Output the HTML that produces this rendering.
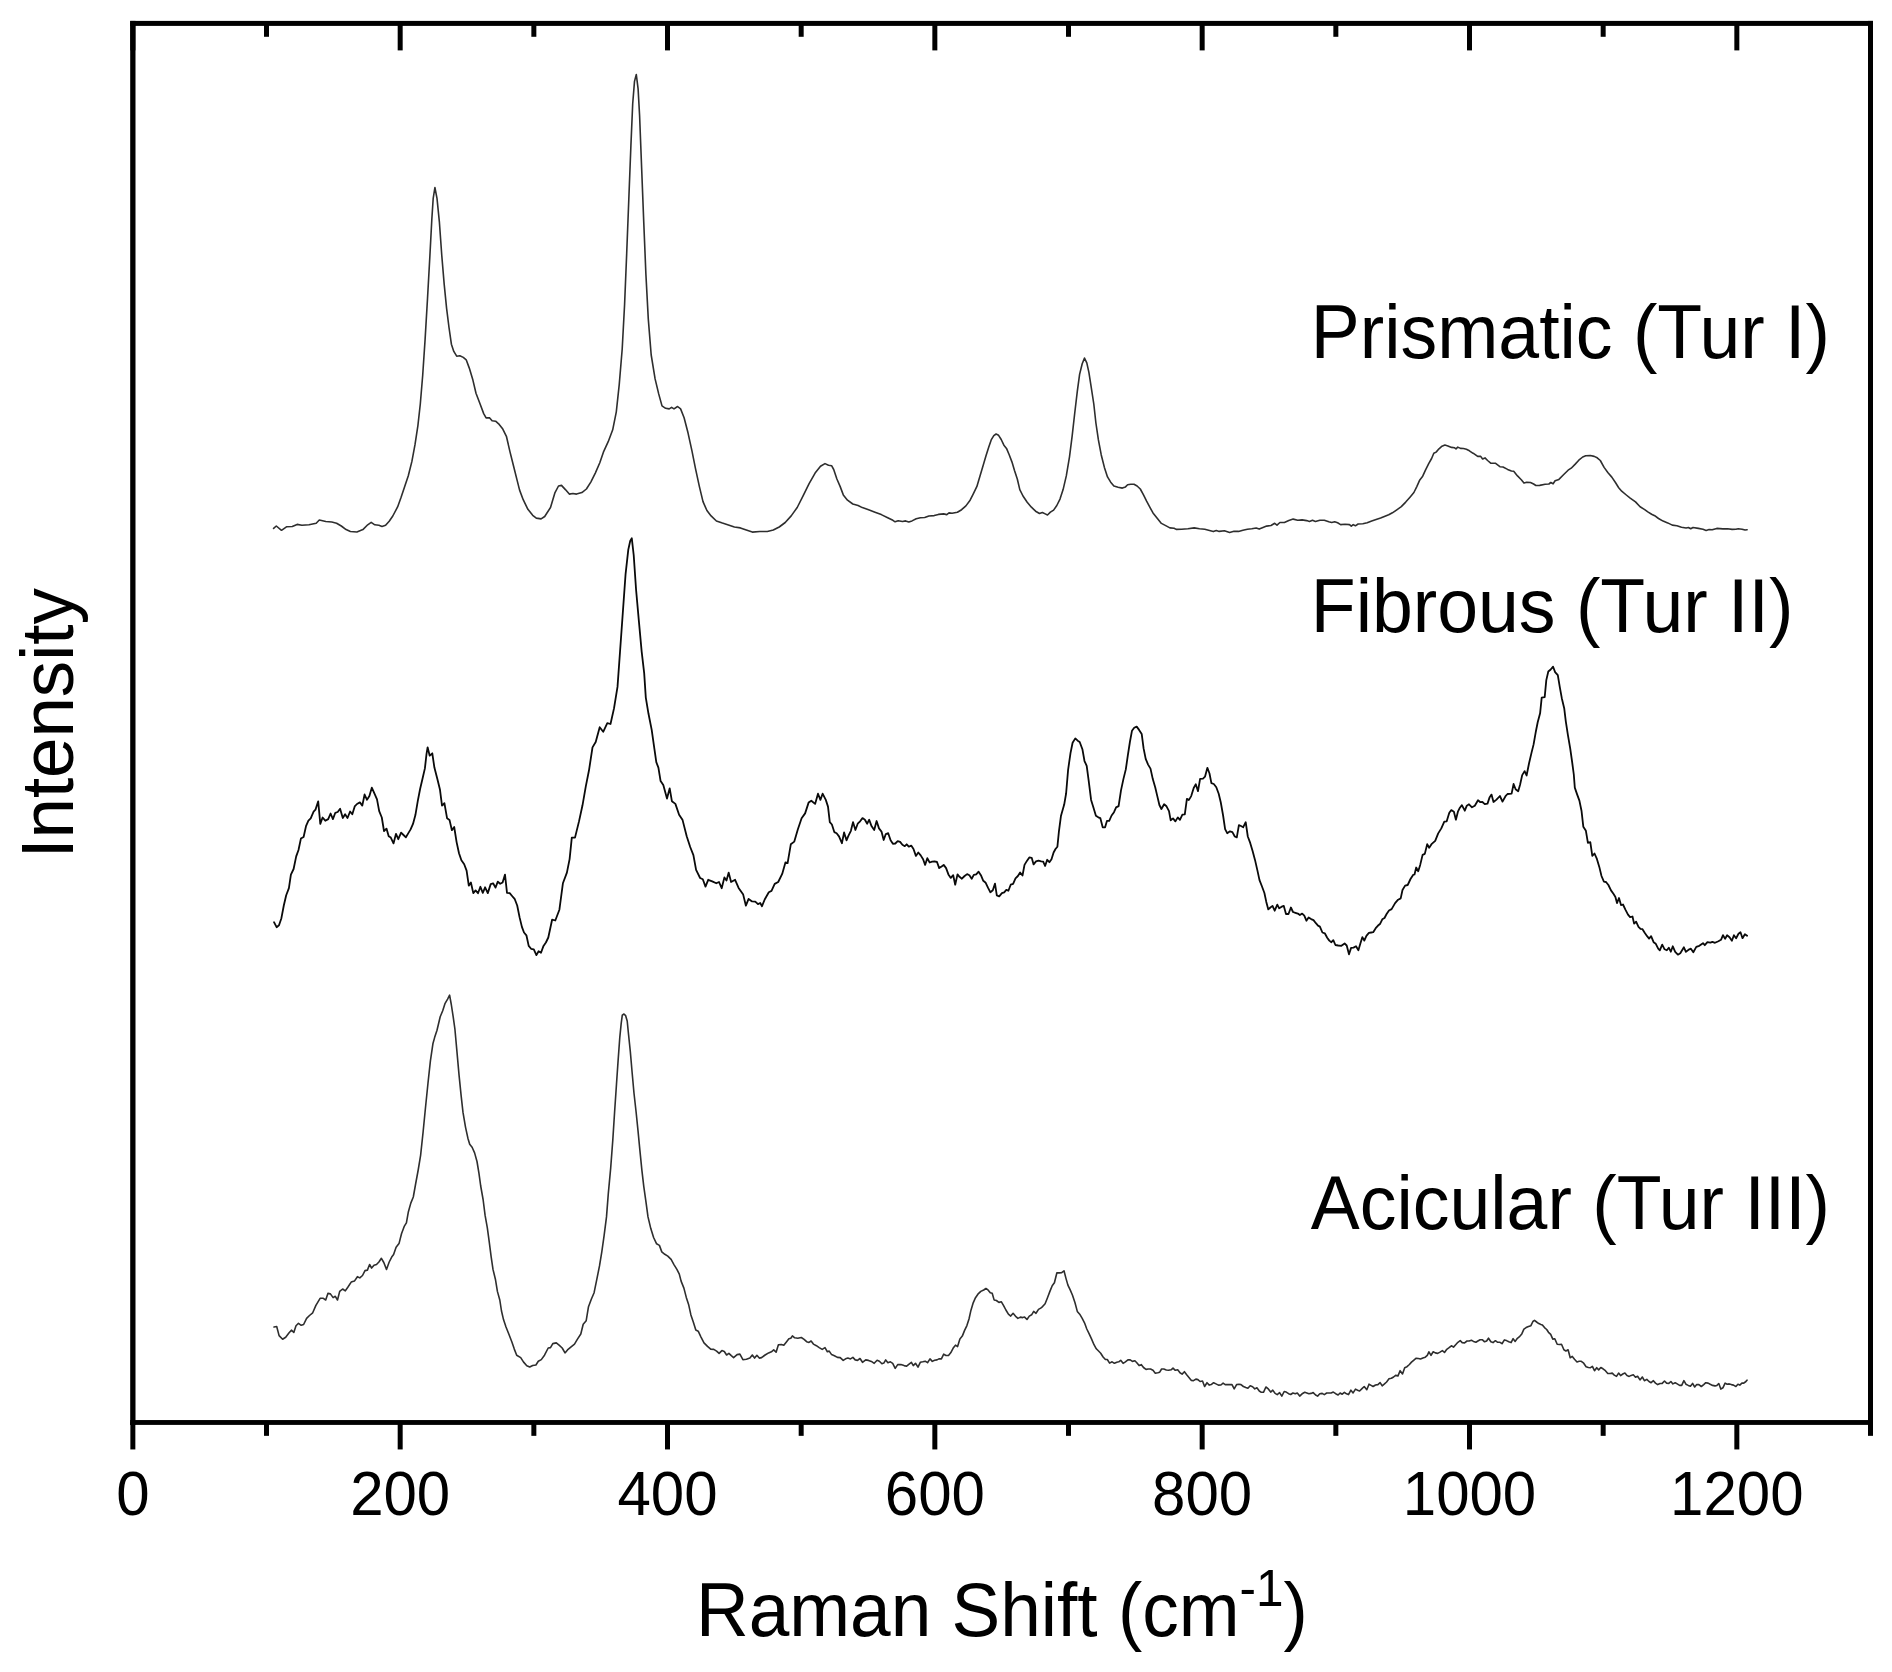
<!DOCTYPE html>
<html lang="en"><head><meta charset="utf-8"><title>Raman spectra</title>
<style>
html,body{margin:0;padding:0;background:#fff;}
body{width:1892px;height:1672px;overflow:hidden;}
svg{display:block;}
svg text{font-family:"Liberation Sans",Arial,sans-serif;fill:#000;}
</style></head><body>
<svg width="1892" height="1672" viewBox="0 0 1892 1672">
<rect x="0" y="0" width="1892" height="1672" fill="#fff"/>
<rect x="130.2" y="20.9" width="5.3" height="1404.0" fill="#000"/>
<rect x="1868" y="20.9" width="5" height="1404.0" fill="#000"/>
<rect x="130.2" y="20.9" width="1742.8" height="5" fill="#000"/>
<rect x="130.2" y="1420.05" width="1742.8" height="4.85" fill="#000"/>
<line x1="132.85" y1="1422.45" x2="132.85" y2="1449.45" stroke="#000" stroke-width="5.0"/>
<line x1="132.85" y1="23.4" x2="132.85" y2="50.40" stroke="#000" stroke-width="5.0"/>
<line x1="266.52" y1="1422.45" x2="266.52" y2="1435.85" stroke="#000" stroke-width="5.0"/>
<line x1="266.52" y1="23.4" x2="266.52" y2="36.80" stroke="#000" stroke-width="5.0"/>
<line x1="400.18" y1="1422.45" x2="400.18" y2="1449.45" stroke="#000" stroke-width="5.0"/>
<line x1="400.18" y1="23.4" x2="400.18" y2="50.40" stroke="#000" stroke-width="5.0"/>
<line x1="533.85" y1="1422.45" x2="533.85" y2="1435.85" stroke="#000" stroke-width="5.0"/>
<line x1="533.85" y1="23.4" x2="533.85" y2="36.80" stroke="#000" stroke-width="5.0"/>
<line x1="667.51" y1="1422.45" x2="667.51" y2="1449.45" stroke="#000" stroke-width="5.0"/>
<line x1="667.51" y1="23.4" x2="667.51" y2="50.40" stroke="#000" stroke-width="5.0"/>
<line x1="801.18" y1="1422.45" x2="801.18" y2="1435.85" stroke="#000" stroke-width="5.0"/>
<line x1="801.18" y1="23.4" x2="801.18" y2="36.80" stroke="#000" stroke-width="5.0"/>
<line x1="934.84" y1="1422.45" x2="934.84" y2="1449.45" stroke="#000" stroke-width="5.0"/>
<line x1="934.84" y1="23.4" x2="934.84" y2="50.40" stroke="#000" stroke-width="5.0"/>
<line x1="1068.51" y1="1422.45" x2="1068.51" y2="1435.85" stroke="#000" stroke-width="5.0"/>
<line x1="1068.51" y1="23.4" x2="1068.51" y2="36.80" stroke="#000" stroke-width="5.0"/>
<line x1="1202.17" y1="1422.45" x2="1202.17" y2="1449.45" stroke="#000" stroke-width="5.0"/>
<line x1="1202.17" y1="23.4" x2="1202.17" y2="50.40" stroke="#000" stroke-width="5.0"/>
<line x1="1335.84" y1="1422.45" x2="1335.84" y2="1435.85" stroke="#000" stroke-width="5.0"/>
<line x1="1335.84" y1="23.4" x2="1335.84" y2="36.80" stroke="#000" stroke-width="5.0"/>
<line x1="1469.50" y1="1422.45" x2="1469.50" y2="1449.45" stroke="#000" stroke-width="5.0"/>
<line x1="1469.50" y1="23.4" x2="1469.50" y2="50.40" stroke="#000" stroke-width="5.0"/>
<line x1="1603.17" y1="1422.45" x2="1603.17" y2="1435.85" stroke="#000" stroke-width="5.0"/>
<line x1="1603.17" y1="23.4" x2="1603.17" y2="36.80" stroke="#000" stroke-width="5.0"/>
<line x1="1736.83" y1="1422.45" x2="1736.83" y2="1449.45" stroke="#000" stroke-width="5.0"/>
<line x1="1736.83" y1="23.4" x2="1736.83" y2="50.40" stroke="#000" stroke-width="5.0"/>
<line x1="1870.50" y1="1422.45" x2="1870.50" y2="1435.85" stroke="#000" stroke-width="5.0"/>
<line x1="1870.50" y1="23.4" x2="1870.50" y2="36.80" stroke="#000" stroke-width="5.0"/>
<text transform="translate(132.85,1514.9) scale(1,1.04)" font-size="60" text-anchor="middle">0</text>
<text transform="translate(400.18,1514.9) scale(1,1.04)" font-size="60" text-anchor="middle">200</text>
<text transform="translate(667.51,1514.9) scale(1,1.04)" font-size="60" text-anchor="middle">400</text>
<text transform="translate(934.84,1514.9) scale(1,1.04)" font-size="60" text-anchor="middle">600</text>
<text transform="translate(1202.17,1514.9) scale(1,1.04)" font-size="60" text-anchor="middle">800</text>
<text transform="translate(1469.50,1514.9) scale(1,1.04)" font-size="60" text-anchor="middle">1000</text>
<text transform="translate(1736.83,1514.9) scale(1,1.04)" font-size="60" text-anchor="middle">1200</text>
<text transform="translate(1310.8,357.65) scale(1,1.03)" font-size="73.4" text-anchor="start">Prismatic (Tur I)</text>
<text transform="translate(1310.8,631.9) scale(1,1.03)" font-size="73.4" text-anchor="start">Fibrous (Tur II)</text>
<text transform="translate(1310.8,1228.9) scale(1,1.03)" font-size="73.4" text-anchor="start">Acicular (Tur III)</text>
<text transform="translate(696.0,1635.8) scale(1,1.03)" font-size="73.0" text-anchor="start">Raman Shift (cm<tspan font-size="49.5" dy="-29.3">-1</tspan><tspan dy="29.3">)</tspan></text>
<text transform="translate(72.75,858.6) rotate(-90) scale(1,1.03)" font-size="72.6" text-anchor="start">Intensity</text>
<path d="M273.6,528.4 L276.3,526.0 L281.5,530.3 L286.8,526.7 L292.3,526.5 L297.1,524.4 L301.9,525.3 L309.0,524.8 L316.2,523.2 L319.3,520.0 L325.8,521.5 L331.8,522.0 L336.6,523.2 L341.3,526.0 L346.1,529.6 L350.4,531.5 L356.9,532.0 L362.9,529.6 L367.7,524.8 L371.2,522.4 L374.8,524.8 L378.9,525.3 L382.0,526.5 L385.6,525.3 L389.2,521.2 L392.8,516.0 L397.6,506.9 L401.1,497.3 L404.7,486.6 L408.3,475.8 L411.9,461.4 L415.0,444.7 L417.9,425.6 L420.3,404.0 L422.7,375.3 L425.1,339.4 L427.5,298.8 L429.9,255.7 L431.8,219.8 L433.2,198.3 L434.9,187.5 L437.0,198.3 L439.4,222.2 L441.8,255.7 L444.2,284.4 L446.6,308.3 L449.0,327.5 L451.4,344.2 L453.8,351.4 L456.7,356.2 L459.8,355.7 L463.3,357.4 L466.2,359.8 L469.3,368.1 L472.9,380.1 L476.0,393.3 L480.1,404.0 L483.7,413.6 L486.1,417.9 L489.7,417.9 L492.1,420.8 L495.6,421.2 L499.2,424.4 L502.8,429.1 L506.4,436.3 L510.0,451.9 L513.6,466.2 L517.2,480.6 L519.6,490.1 L523.2,499.7 L527.9,509.3 L532.7,515.3 L536.3,518.1 L541.1,518.9 L544.7,516.5 L550.5,507.5 L555.0,492.6 L558.5,486.0 L561.5,485.4 L565.4,489.6 L569.3,494.1 L572.9,493.5 L576.5,494.1 L581.9,492.6 L586.4,489.0 L590.8,482.1 L595.3,473.1 L599.8,462.7 L603.4,452.2 L608.2,441.7 L612.7,429.8 L616.3,411.8 L619.2,384.9 L622.2,349.0 L624.6,304.2 L626.7,253.3 L628.8,199.5 L630.9,145.7 L632.7,103.8 L634.5,81.4 L636.3,74.5 L638.1,88.9 L639.6,115.8 L641.7,169.6 L643.8,223.4 L645.9,274.3 L648.3,319.1 L651.2,355.0 L655.1,378.9 L658.7,393.9 L662.0,405.9 L665.6,408.3 L669.2,408.9 L671.6,407.4 L674.0,408.9 L677.6,406.5 L680.6,408.9 L684.1,417.8 L688.0,432.8 L691.9,450.7 L695.5,468.7 L699.4,486.6 L703.0,501.6 L706.9,510.5 L711.1,515.9 L716.4,521.0 L722.4,523.1 L728.4,524.9 L734.4,527.0 L740.4,527.9 L746.3,530.0 L752.3,532.1 L759.8,531.5 L767.3,531.5 L773.3,530.0 L779.2,527.0 L785.2,522.5 L791.2,515.9 L797.2,507.5 L803.2,495.6 L809.1,483.6 L815.1,473.1 L820.5,466.3 L825.0,463.6 L828.5,465.3 L831.6,465.7 L833.7,469.5 L836.9,479.0 L840.1,486.4 L843.3,494.9 L847.5,500.2 L852.8,504.0 L858.1,505.5 L862.3,507.6 L868.6,509.7 L875.0,512.2 L881.3,514.6 L887.7,517.7 L892.9,520.3 L895.1,521.8 L898.2,520.7 L902.5,521.5 L905.6,520.9 L908.8,522.0 L912.0,520.9 L916.2,518.8 L920.4,517.7 L924.7,517.5 L928.9,516.0 L934.2,515.6 L938.4,514.4 L943.7,513.9 L946.8,514.6 L949.0,512.9 L952.1,513.3 L957.4,512.2 L961.6,509.7 L965.9,505.9 L970.1,500.2 L973.3,493.8 L976.9,486.4 L980.0,475.9 L983.2,465.3 L986.0,455.8 L988.7,447.3 L991.2,439.9 L993.8,435.7 L996.1,434.0 L998.6,435.3 L1001.2,439.5 L1003.9,445.2 L1006.5,448.4 L1009.2,454.7 L1012.0,462.1 L1014.5,470.6 L1017.3,479.0 L1019.8,489.6 L1023.0,496.0 L1027.2,502.3 L1031.4,507.2 L1035.6,511.2 L1039.5,513.5 L1042.4,512.5 L1045.2,513.9 L1047.5,515.0 L1050.4,512.2 L1053.6,510.1 L1056.8,505.5 L1060.0,499.1 L1063.1,489.6 L1066.3,475.9 L1069.5,456.8 L1072.2,435.7 L1074.8,412.5 L1077.3,391.3 L1079.6,374.4 L1082.2,363.8 L1084.5,358.1 L1086.8,362.8 L1088.9,372.3 L1091.2,387.1 L1093.8,404.0 L1095.9,423.0 L1098.4,439.9 L1101.2,454.7 L1104.4,467.4 L1107.5,476.9 L1110.7,482.2 L1113.9,486.0 L1118.1,487.3 L1122.3,488.1 L1125.5,486.9 L1127.6,484.8 L1130.8,484.3 L1134.0,484.3 L1137.1,486.0 L1140.3,489.0 L1143.5,494.9 L1146.6,501.2 L1149.8,507.2 L1153.0,512.9 L1157.2,518.2 L1161.4,523.4 L1165.7,525.6 L1169.9,527.9 L1174.1,528.3 L1176.2,529.4 L1181.5,529.2 L1187.9,528.7 L1194.2,527.9 L1199.5,528.7 L1204.8,529.2 L1213.3,531.6 L1216.3,530.5 L1219.2,531.4 L1224.4,530.8 L1229.6,532.5 L1234.0,531.3 L1238.5,531.4 L1242.9,530.2 L1247.4,529.2 L1251.8,528.8 L1256.2,528.0 L1259.2,529.1 L1263.6,527.3 L1266.6,526.1 L1271.0,525.5 L1274.7,523.3 L1277.0,525.1 L1279.9,522.5 L1284.4,522.5 L1288.8,520.6 L1293.2,519.1 L1297.7,520.2 L1302.1,519.9 L1306.6,520.6 L1309.5,521.4 L1312.5,520.2 L1315.4,521.4 L1319.9,520.2 L1324.3,520.3 L1328.8,521.7 L1331.7,522.5 L1334.7,521.8 L1337.6,522.8 L1340.6,524.6 L1345.0,524.3 L1349.5,524.6 L1351.3,526.2 L1353.2,524.6 L1355.4,525.8 L1358.1,524.0 L1362.8,523.7 L1367.2,522.8 L1371.7,521.1 L1376.1,519.6 L1380.6,518.1 L1385.0,516.3 L1388.7,514.8 L1392.4,512.8 L1396.8,509.8 L1401.3,506.6 L1405.7,502.1 L1410.2,496.9 L1413.9,492.5 L1416.8,486.6 L1419.8,479.9 L1422.7,476.2 L1425.7,469.6 L1428.7,463.6 L1431.6,458.5 L1433.8,453.3 L1436.1,452.1 L1439.0,448.8 L1442.0,446.2 L1444.9,445.1 L1447.9,445.9 L1451.6,447.4 L1454.6,447.8 L1456.0,448.8 L1457.8,447.1 L1460.5,448.4 L1463.4,448.5 L1466.4,449.3 L1469.4,450.8 L1473.1,453.3 L1473.8,453.6 L1477.7,456.4 L1480.7,456.4 L1482.6,459.0 L1485.0,457.9 L1487.6,460.5 L1490.7,463.2 L1495.3,463.2 L1499.9,466.7 L1503.0,467.0 L1507.6,469.4 L1511.4,471.0 L1513.7,471.3 L1517.5,475.9 L1521.3,479.7 L1524.0,483.1 L1526.7,482.3 L1530.5,482.5 L1533.6,484.0 L1535.9,485.5 L1539.7,485.4 L1545.1,484.3 L1548.9,484.0 L1550.8,482.5 L1553.1,483.8 L1555.1,480.8 L1558.9,479.4 L1563.5,474.8 L1568.1,470.2 L1571.2,468.2 L1575.0,464.4 L1578.8,460.2 L1582.7,457.0 L1585.7,455.8 L1590.3,455.5 L1594.2,456.4 L1597.2,457.8 L1600.3,460.5 L1604.1,467.4 L1608.0,472.8 L1611.8,477.1 L1615.6,482.8 L1618.7,487.7 L1621.7,491.2 L1626.3,495.0 L1630.2,498.1 L1635.5,501.9 L1640.1,506.8 L1644.7,509.6 L1647.8,511.9 L1651.6,514.2 L1654.7,515.7 L1658.5,518.5 L1663.1,521.1 L1667.7,522.9 L1672.3,525.1 L1676.9,525.7 L1681.5,527.2 L1686.1,528.0 L1688.4,527.5 L1690.7,528.8 L1693.0,527.5 L1698.4,528.4 L1703.0,529.2 L1706.1,530.4 L1709.1,529.5 L1712.2,529.8 L1716.8,528.4 L1722.9,528.9 L1727.5,528.8 L1732.1,529.4 L1735.9,529.2 L1738.2,528.8 L1742.1,529.2 L1745.1,530.0 L1747.1,529.7" fill="none" stroke="#2e2e2e" stroke-width="1.6" stroke-linejoin="round" stroke-linecap="round"/>
<path d="M274.0,922.2 L276.6,927.2 L279.0,925.3 L281.4,918.2 L283.8,905.5 L286.2,895.2 L288.9,888.1 L290.9,874.6 L293.6,869.0 L296.2,856.4 L298.5,850.0 L300.9,838.6 L303.6,837.0 L306.0,826.2 L308.4,820.7 L310.7,818.3 L313.6,811.6 L315.5,809.6 L318.2,801.3 L320.3,823.9 L322.6,817.5 L325.3,820.7 L328.2,819.1 L330.6,813.5 L332.9,819.1 L335.3,812.8 L337.7,812.0 L340.1,808.8 L342.8,818.0 L345.1,814.3 L347.5,818.0 L350.1,811.5 L352.3,814.3 L354.7,806.4 L357.0,804.0 L359.9,802.4 L362.3,805.6 L364.6,794.5 L367.0,799.8 L369.4,796.1 L371.8,787.7 L374.5,793.7 L377.0,799.3 L379.2,811.2 L381.8,817.5 L384.0,831.0 L386.5,828.6 L388.7,836.2 L390.8,837.6 L393.5,843.4 L396.0,833.8 L398.3,839.2 L401.1,832.6 L403.5,835.0 L405.9,837.3 L408.2,833.4 L410.6,829.4 L413.0,823.9 L415.4,815.1 L417.8,800.9 L420.1,789.0 L422.5,778.7 L424.9,768.4 L426.5,754.1 L427.6,747.3 L429.7,755.7 L432.3,753.3 L434.4,767.6 L437.3,778.7 L440.0,789.8 L442.0,805.6 L444.4,803.2 L447.1,818.3 L449.5,819.9 L451.9,830.2 L454.2,827.0 L456.6,842.1 L459.0,853.2 L461.4,860.3 L464.2,864.3 L466.6,870.6 L468.8,885.7 L470.9,882.5 L473.3,893.1 L475.6,890.4 L478.0,893.3 L480.4,886.8 L482.8,892.8 L485.1,887.3 L487.8,893.1 L490.7,884.1 L493.1,883.3 L495.5,887.6 L497.8,881.7 L500.2,883.8 L502.6,882.5 L505.0,874.6 L507.0,892.8 L509.7,893.1 L512.1,896.0 L514.8,899.2 L517.2,905.5 L519.6,917.4 L521.9,926.9 L524.0,932.5 L526.4,935.3 L528.7,945.9 L531.1,948.8 L533.8,949.4 L536.4,955.1 L538.6,951.2 L541.0,952.8 L543.5,945.9 L545.9,942.5 L548.3,937.5 L552.1,919.7 L555.3,920.5 L559.4,909.7 L562.9,883.3 L566.9,872.6 L569.6,859.1 L571.8,837.6 L575.0,837.6 L579.0,821.4 L582.5,805.3 L585.8,786.4 L589.0,770.3 L592.5,747.4 L595.7,742.0 L599.7,727.2 L603.2,731.8 L607.3,723.2 L610.5,724.0 L614.0,708.4 L617.5,686.9 L620.2,649.2 L622.9,611.5 L625.6,573.8 L628.3,549.6 L630.2,541.0 L631.8,538.3 L633.7,555.0 L636.1,590.0 L639.0,622.3 L641.7,651.9 L644.2,673.4 L645.8,697.6 L648.5,713.8 L651.7,729.9 L654.4,748.8 L656.3,762.2 L658.4,767.6 L660.6,781.1 L663.3,785.1 L667.0,798.6 L669.7,788.3 L671.9,801.2 L675.4,803.9 L679.1,814.7 L682.6,820.1 L686.7,836.2 L690.2,847.0 L693.4,855.1 L696.1,869.9 L700.1,878.0 L702.8,879.3 L705.5,886.6 L708.2,879.8 L712.2,881.4 L716.3,883.3 L719.0,882.0 L721.7,888.2 L724.4,877.4 L726.5,880.6 L728.7,872.6 L731.1,882.0 L735.1,879.8 L738.6,887.9 L743.2,894.6 L745.9,905.7 L748.6,898.9 L752.1,901.4 L755.3,901.6 L758.0,904.1 L760.2,903.0 L762.0,906.2 L764.7,899.5 L768.8,892.2 L771.5,890.9 L774.7,883.9 L778.2,882.0 L782.2,873.9 L785.5,862.3 L787.6,863.1 L790.8,844.3 L794.3,841.6 L797.8,829.5 L801.6,818.2 L805.1,813.4 L808.6,802.6 L811.3,800.7 L815.1,803.9 L818.0,793.7 L820.4,799.9 L822.6,793.7 L825.8,799.9 L828.0,806.6 L829.8,822.1 L831.9,824.5 L834.3,832.1 L836.6,833.2 L839.0,836.4 L841.9,843.2 L844.1,832.4 L846.5,840.3 L848.5,835.6 L850.9,830.8 L853.0,822.1 L855.4,830.0 L857.7,823.7 L860.1,821.3 L862.5,818.1 L864.9,819.7 L867.2,823.7 L869.2,819.7 L871.5,826.1 L874.2,830.0 L876.6,821.0 L879.0,828.4 L881.5,831.6 L883.7,840.0 L885.8,834.0 L888.2,833.2 L890.6,840.3 L892.9,843.8 L895.3,843.5 L897.7,841.1 L900.1,841.9 L902.4,844.8 L904.8,846.2 L906.7,844.3 L908.8,846.7 L911.2,845.6 L913.5,849.0 L915.9,855.9 L918.3,852.5 L920.7,855.4 L923.1,859.3 L925.1,864.9 L927.3,858.2 L929.7,862.5 L932.1,861.7 L934.5,861.4 L937.0,862.0 L939.2,868.1 L941.6,866.5 L943.7,864.9 L946.1,868.1 L948.4,874.4 L950.8,877.9 L953.2,875.2 L955.2,884.7 L957.5,874.4 L959.5,876.8 L961.9,878.7 L964.6,876.0 L967.1,874.1 L969.4,875.2 L971.7,878.7 L973.8,874.9 L976.2,874.4 L978.6,871.7 L980.9,875.2 L983.3,880.8 L985.7,882.8 L988.1,887.9 L990.4,892.3 L992.8,890.3 L995.0,883.6 L996.8,895.3 L999.2,896.3 L1001.9,893.1 L1004.2,892.3 L1006.3,889.8 L1008.4,890.7 L1010.7,884.7 L1013.1,883.9 L1015.5,878.4 L1017.9,876.0 L1020.1,872.5 L1022.5,875.5 L1024.5,864.9 L1026.9,860.9 L1029.3,857.4 L1031.7,857.8 L1033.6,864.4 L1036.0,861.4 L1038.5,860.6 L1041.2,861.4 L1043.2,861.7 L1045.1,866.0 L1047.2,859.8 L1049.4,862.2 L1051.5,859.3 L1053.6,852.5 L1055.5,849.0 L1057.4,846.7 L1058.9,831.6 L1061.0,815.7 L1064.2,804.6 L1066.1,793.5 L1068.1,769.8 L1070.5,753.1 L1072.6,742.8 L1075.3,738.4 L1077.7,740.7 L1079.7,742.0 L1082.4,749.2 L1084.5,761.0 L1086.7,765.8 L1088.7,780.9 L1091.1,799.9 L1093.5,807.8 L1095.9,815.7 L1098.3,817.3 L1100.3,818.1 L1102.7,827.3 L1105.1,827.3 L1107.0,820.8 L1109.2,820.8 L1111.6,815.5 L1114.0,812.2 L1116.1,807.4 L1118.6,806.1 L1121.0,790.4 L1123.4,779.1 L1125.8,769.4 L1127.8,755.7 L1129.9,742.0 L1132.0,730.7 L1134.2,727.8 L1136.7,726.6 L1139.1,729.9 L1141.7,733.9 L1143.6,748.4 L1145.7,758.9 L1148.1,764.6 L1150.5,768.6 L1152.8,779.1 L1155.2,787.2 L1157.3,796.1 L1159.4,805.0 L1161.4,809.0 L1164.1,804.2 L1166.5,806.3 L1169.0,811.1 L1170.7,820.3 L1173.0,818.4 L1175.4,821.4 L1177.8,817.4 L1179.9,819.8 L1182.4,814.7 L1184.8,814.3 L1186.9,798.8 L1188.8,800.1 L1191.2,796.1 L1193.7,788.0 L1195.8,784.3 L1198.0,791.2 L1200.1,778.8 L1203.0,778.6 L1205.0,776.7 L1207.4,767.8 L1209.5,773.5 L1211.4,783.2 L1213.8,784.0 L1216.3,787.2 L1218.7,793.7 L1220.8,802.5 L1223.1,815.5 L1225.1,829.2 L1227.2,833.2 L1230.0,831.3 L1232.4,832.1 L1234.8,836.5 L1236.8,837.3 L1238.9,825.1 L1241.0,826.0 L1243.2,827.2 L1245.7,822.2 L1247.8,836.5 L1250.2,842.9 L1252.6,851.0 L1255.0,859.9 L1257.4,870.4 L1259.5,880.1 L1262.0,886.5 L1264.4,893.0 L1266.3,901.9 L1268.3,909.4 L1270.4,907.5 L1272.5,905.9 L1274.7,910.7 L1277.3,904.6 L1279.2,908.3 L1281.7,906.7 L1283.8,905.9 L1286.0,914.0 L1288.5,914.0 L1290.9,907.5 L1293.0,912.0 L1295.4,912.8 L1297.8,913.6 L1299.9,915.1 L1302.2,913.6 L1304.3,915.6 L1306.4,920.7 L1308.6,917.5 L1311.1,919.1 L1313.5,920.1 L1315.9,923.2 L1318.0,925.6 L1319.9,926.6 L1322.4,932.5 L1324.8,933.3 L1327.2,937.7 L1329.3,940.6 L1331.4,942.2 L1333.3,940.1 L1335.4,945.0 L1338.2,945.5 L1341.4,945.8 L1344.6,943.5 L1346.7,945.5 L1349.0,954.3 L1351.1,947.9 L1353.5,947.6 L1356.0,946.3 L1358.4,950.3 L1360.3,943.8 L1362.4,937.1 L1364.3,940.6 L1366.4,935.8 L1368.9,932.9 L1371.3,932.5 L1373.2,932.2 L1375.7,928.2 L1377.8,925.8 L1380.2,923.7 L1382.3,919.3 L1384.5,918.0 L1386.6,914.0 L1389.0,910.5 L1391.6,909.1 L1395.1,903.1 L1398.1,899.7 L1400.7,898.4 L1402.5,890.0 L1405.1,885.6 L1407.7,885.0 L1410.5,879.0 L1413.1,874.9 L1414.5,874.5 L1416.2,867.5 L1418.2,871.3 L1420.2,864.9 L1422.6,854.9 L1424.8,853.9 L1427.2,844.2 L1429.2,847.8 L1431.8,843.8 L1435.2,840.8 L1438.2,833.4 L1441.3,828.4 L1444.3,821.7 L1446.7,821.3 L1449.3,812.7 L1451.3,810.1 L1453.9,811.7 L1455.9,819.7 L1457.9,811.7 L1459.9,807.7 L1461.9,805.1 L1464.8,810.7 L1466.8,805.7 L1469.0,804.3 L1472.0,807.3 L1474.8,805.7 L1478.0,800.2 L1480.4,802.2 L1482.4,802.0 L1484.8,804.1 L1487.5,803.6 L1489.5,797.6 L1491.5,794.6 L1493.5,802.0 L1496.5,799.6 L1499.9,796.0 L1502.5,801.6 L1505.5,796.2 L1507.5,794.0 L1511.6,793.6 L1513.6,784.0 L1515.6,789.2 L1518.2,791.2 L1520.0,785.0 L1522.2,775.1 L1524.6,771.1 L1526.6,775.5 L1529.0,763.5 L1531.6,752.4 L1533.6,744.4 L1535.7,732.3 L1537.7,722.3 L1540.1,713.3 L1541.7,697.6 L1544.7,697.2 L1546.3,680.1 L1548.3,671.5 L1550.7,669.5 L1553.1,666.7 L1555.1,672.1 L1557.8,675.1 L1559.8,687.2 L1561.8,698.2 L1564.2,708.2 L1565.8,721.3 L1567.8,734.4 L1570.2,748.4 L1572.2,762.5 L1573.8,774.5 L1574.8,787.6 L1577.2,794.6 L1579.4,800.6 L1581.5,810.7 L1583.3,826.7 L1585.9,830.8 L1587.9,842.8 L1590.3,842.2 L1592.3,855.9 L1594.5,853.5 L1596.9,858.9 L1599.3,866.9 L1601.5,876.0 L1603.9,881.6 L1606.0,882.0 L1608.4,885.0 L1611.0,890.4 L1613.6,894.0 L1615.4,897.0 L1617.0,903.1 L1619.0,898.0 L1621.0,905.1 L1623.0,904.5 L1625.4,909.7 L1628.0,914.7 L1630.1,917.1 L1632.5,916.5 L1634.1,923.6 L1636.1,921.7 L1638.5,926.8 L1640.5,928.8 L1642.5,929.2 L1644.7,932.8 L1647.1,936.2 L1649.1,938.6 L1651.1,936.2 L1653.6,942.2 L1655.8,943.8 L1658.2,948.7 L1659.8,950.3 L1662.2,944.6 L1664.6,949.3 L1666.8,950.3 L1668.8,947.7 L1670.8,951.7 L1672.8,946.3 L1675.2,951.9 L1677.9,954.7 L1680.3,953.3 L1683.9,947.3 L1685.9,951.9 L1689.3,949.3 L1690.9,948.7 L1693.3,952.3 L1696.3,946.9 L1699.3,945.8 L1703.0,943.2 L1704.8,945.2 L1707.4,942.2 L1710.4,942.6 L1712.4,941.8 L1715.0,942.8 L1718.4,941.2 L1721.0,939.8 L1723.0,935.2 L1725.1,938.8 L1727.1,935.2 L1729.5,937.2 L1731.9,940.8 L1733.9,935.2 L1736.1,938.2 L1738.5,933.8 L1740.5,932.2 L1742.5,938.2 L1744.9,934.2 L1747.1,935.8" fill="none" stroke="#0a0a0a" stroke-width="1.8" stroke-linejoin="round" stroke-linecap="round"/>
<path d="M274.0,1327.0 L276.7,1326.5 L279.1,1335.6 L282.6,1339.2 L285.7,1337.3 L288.9,1333.1 L291.4,1330.2 L293.8,1332.4 L296.0,1325.8 L298.5,1323.3 L301.2,1325.3 L303.6,1324.5 L306.6,1318.4 L309.5,1315.5 L312.7,1312.8 L315.9,1305.4 L320.1,1298.3 L323.3,1298.3 L325.7,1300.0 L327.9,1293.4 L330.4,1293.9 L333.1,1297.6 L335.3,1296.3 L337.5,1300.0 L339.7,1291.4 L342.6,1289.0 L345.3,1290.9 L347.8,1287.3 L351.2,1282.1 L354.4,1281.1 L357.4,1276.7 L359.8,1277.9 L362.5,1275.5 L365.0,1270.6 L367.4,1270.1 L369.6,1264.5 L371.6,1268.1 L374.0,1265.2 L376.5,1264.5 L378.9,1262.0 L381.4,1258.3 L383.8,1262.5 L386.5,1269.4 L389.2,1262.0 L391.7,1257.1 L393.6,1254.6 L396.1,1247.3 L399.0,1243.6 L401.5,1233.8 L404.2,1226.4 L406.4,1222.8 L408.4,1211.7 L410.8,1203.1 L413.3,1197.0 L415.7,1183.5 L418.2,1170.0 L420.6,1155.3 L423.1,1132.0 L425.5,1107.5 L428.0,1083.0 L430.4,1060.9 L432.9,1043.8 L434.6,1037.6 L437.0,1030.3 L440.2,1016.8 L442.7,1010.7 L445.1,1003.3 L447.6,999.1 L449.6,995.2 L451.3,1004.5 L453.2,1016.8 L454.9,1029.0 L456.9,1051.1 L459.1,1075.6 L461.1,1095.3 L463.0,1112.4 L465.5,1127.1 L467.9,1138.2 L469.7,1144.3 L472.1,1147.2 L474.6,1152.9 L477.0,1161.5 L479.0,1173.7 L480.7,1186.0 L483.1,1199.5 L485.1,1215.4 L487.3,1227.7 L489.3,1242.4 L491.2,1257.1 L493.0,1269.4 L495.4,1279.2 L497.4,1291.4 L499.8,1300.0 L501.5,1311.0 L503.5,1319.6 L506.0,1327.0 L508.9,1334.3 L511.8,1341.7 L514.3,1349.1 L516.7,1355.2 L520.7,1357.6 L523.6,1362.1 L526.8,1365.7 L529.7,1367.0 L532.7,1365.5 L535.9,1365.0 L538.3,1361.3 L541.3,1359.6 L544.5,1355.2 L548.2,1348.0 L550.5,1347.6 L552.8,1343.6 L556.3,1342.9 L559.1,1345.2 L562.2,1348.0 L565.0,1352.9 L567.5,1349.9 L570.8,1347.1 L574.5,1344.1 L577.3,1339.4 L580.8,1334.0 L583.2,1324.2 L586.2,1320.7 L588.5,1306.7 L591.3,1299.3 L594.1,1292.7 L596.7,1279.9 L599.5,1265.9 L601.8,1251.9 L604.1,1235.6 L606.5,1216.9 L608.3,1193.6 L610.7,1167.9 L612.8,1140.0 L614.6,1112.0 L616.5,1084.0 L618.1,1060.6 L619.8,1037.3 L621.2,1023.3 L622.3,1015.2 L624.0,1014.0 L625.6,1015.6 L627.2,1021.0 L628.6,1035.0 L630.3,1051.3 L632.1,1072.3 L634.0,1093.3 L636.1,1112.0 L638.0,1130.6 L639.8,1149.3 L641.9,1170.3 L643.8,1186.6 L646.1,1202.9 L648.0,1216.9 L650.8,1228.6 L653.6,1237.5 L656.6,1243.8 L659.4,1245.4 L661.8,1251.9 L664.8,1254.3 L667.8,1256.1 L671.1,1259.4 L674.1,1264.8 L676.9,1269.4 L679.3,1274.1 L681.1,1281.1 L683.9,1288.1 L686.3,1297.4 L688.6,1304.4 L690.9,1314.9 L693.3,1321.9 L695.8,1330.1 L698.2,1331.2 L701.0,1337.1 L704.0,1342.9 L707.5,1346.4 L710.7,1349.2 L713.8,1349.4 L716.6,1351.1 L719.1,1353.4 L721.9,1350.6 L724.3,1351.5 L726.6,1355.0 L728.9,1353.4 L731.3,1355.7 L733.6,1357.6 L737.1,1354.6 L739.9,1354.1 L742.9,1359.7 L746.4,1359.2 L749.9,1358.1 L752.3,1355.0 L754.6,1358.1 L756.9,1355.3 L759.3,1358.1 L761.6,1357.6 L765.1,1355.0 L768.6,1352.9 L771.4,1351.8 L773.7,1349.9 L776.1,1352.2 L778.4,1344.8 L781.4,1344.5 L783.8,1345.2 L786.6,1341.7 L788.9,1338.7 L790.8,1338.2 L792.4,1335.9 L794.7,1337.8 L797.8,1338.2 L801.3,1337.5 L804.1,1339.4 L806.6,1341.7 L809.0,1342.4 L811.1,1341.0 L813.4,1344.1 L816.4,1345.7 L819.2,1347.6 L822.2,1349.4 L825.0,1347.6 L827.4,1351.8 L829.2,1351.1 L831.6,1354.6 L834.4,1355.7 L837.4,1357.4 L840.2,1357.6 L843.2,1360.4 L845.6,1358.8 L847.9,1358.1 L850.5,1358.9 L852.9,1357.4 L855.2,1359.9 L857.5,1360.4 L860.0,1358.5 L862.5,1362.3 L865.7,1359.9 L868.5,1360.4 L871.4,1361.4 L874.2,1363.3 L877.1,1360.3 L879.4,1361.2 L881.9,1363.7 L883.8,1363.1 L885.7,1359.9 L887.9,1362.7 L890.4,1361.8 L892.7,1363.3 L895.2,1368.4 L897.7,1364.6 L900.9,1364.6 L904.1,1365.6 L906.6,1366.2 L909.1,1364.1 L911.4,1362.3 L913.3,1365.6 L915.5,1363.3 L918.0,1367.1 L920.3,1362.3 L922.8,1361.8 L925.2,1361.2 L927.5,1362.7 L930.0,1358.9 L932.3,1361.4 L934.6,1360.3 L937.0,1359.9 L938.9,1358.9 L941.4,1358.9 L943.7,1354.2 L946.0,1355.5 L948.5,1355.5 L950.7,1352.8 L953.2,1348.1 L955.5,1345.2 L957.6,1346.6 L959.9,1338.9 L962.3,1336.1 L964.6,1330.4 L966.9,1325.6 L969.0,1319.0 L970.9,1310.4 L973.2,1302.8 L975.5,1297.7 L977.9,1294.2 L980.8,1291.4 L983.7,1290.0 L985.9,1288.5 L988.0,1289.9 L990.3,1292.7 L992.2,1293.3 L994.1,1299.9 L996.4,1300.5 L998.9,1302.4 L1001.4,1301.8 L1003.6,1305.6 L1005.9,1310.0 L1008.4,1314.2 L1010.7,1316.1 L1013.1,1313.3 L1015.4,1316.1 L1017.9,1318.4 L1020.4,1317.1 L1022.7,1317.6 L1024.6,1317.1 L1027.0,1319.5 L1029.3,1316.1 L1031.6,1314.8 L1033.7,1311.4 L1036.0,1313.3 L1038.5,1309.4 L1040.7,1308.1 L1042.6,1306.6 L1045.1,1303.7 L1047.4,1298.0 L1049.9,1291.4 L1052.2,1285.7 L1054.4,1282.8 L1056.9,1272.7 L1059.4,1272.9 L1061.7,1272.7 L1064.0,1270.8 L1065.9,1278.1 L1067.9,1285.1 L1070.2,1289.9 L1072.5,1295.2 L1075.0,1302.8 L1077.3,1311.4 L1079.7,1314.2 L1082.2,1318.4 L1084.5,1322.8 L1086.8,1329.0 L1089.3,1334.2 L1091.5,1338.9 L1094.0,1344.7 L1096.3,1348.8 L1098.8,1351.3 L1100.7,1353.2 L1103.1,1357.0 L1105.4,1359.5 L1107.3,1359.5 L1109.6,1363.1 L1112.1,1361.8 L1114.4,1363.3 L1116.8,1362.2 L1118.8,1361.8 L1120.7,1360.3 L1123.1,1363.3 L1125.4,1361.8 L1127.9,1359.9 L1130.2,1359.9 L1132.4,1361.4 L1134.9,1360.8 L1136.8,1362.7 L1139.1,1365.6 L1141.2,1364.6 L1143.5,1367.5 L1146.0,1369.4 L1148.2,1369.0 L1150.5,1369.0 L1153.0,1370.3 L1155.3,1373.2 L1157.8,1372.8 L1159.7,1372.2 L1161.6,1369.0 L1163.8,1369.0 L1166.3,1370.0 L1168.6,1370.3 L1171.1,1369.8 L1173.0,1368.1 L1175.3,1370.3 L1177.7,1369.8 L1180.0,1372.8 L1182.1,1374.1 L1184.4,1371.7 L1186.7,1374.7 L1191.4,1380.4 L1193.5,1380.7 L1195.9,1379.1 L1197.9,1379.6 L1200.1,1381.5 L1202.5,1381.0 L1204.6,1386.5 L1207.0,1382.7 L1209.3,1385.1 L1211.2,1384.6 L1213.6,1382.7 L1216.0,1383.9 L1218.4,1385.1 L1220.9,1385.0 L1223.1,1383.1 L1225.2,1384.6 L1227.6,1384.6 L1229.9,1384.6 L1232.0,1384.6 L1234.2,1388.9 L1236.6,1384.6 L1239.0,1384.3 L1241.0,1384.6 L1243.4,1386.5 L1245.8,1387.5 L1247.9,1388.3 L1250.2,1385.8 L1252.6,1386.7 L1254.8,1388.9 L1256.9,1387.8 L1259.3,1391.0 L1261.3,1392.3 L1263.6,1392.1 L1265.9,1387.0 L1268.3,1388.9 L1270.7,1392.1 L1272.8,1390.2 L1275.1,1393.4 L1277.2,1394.6 L1279.6,1392.6 L1281.8,1396.1 L1284.2,1391.5 L1286.2,1392.1 L1288.6,1393.7 L1290.7,1394.5 L1292.9,1393.0 L1295.3,1393.8 L1297.3,1393.0 L1299.7,1396.1 L1302.1,1393.8 L1304.8,1392.3 L1306.8,1392.9 L1308.9,1393.7 L1311.1,1393.4 L1313.2,1392.6 L1315.6,1395.0 L1317.6,1396.1 L1319.8,1393.8 L1322.2,1393.4 L1324.3,1394.6 L1326.7,1393.0 L1329.0,1393.0 L1331.1,1393.0 L1333.3,1392.1 L1335.7,1393.7 L1338.1,1395.0 L1340.1,1393.0 L1342.2,1394.2 L1344.4,1392.3 L1346.5,1393.8 L1348.5,1394.6 L1350.9,1390.2 L1353.1,1392.9 L1355.5,1389.1 L1357.6,1390.2 L1359.6,1391.0 L1362.0,1388.6 L1364.2,1386.5 L1366.8,1389.7 L1369.0,1384.2 L1371.1,1385.4 L1373.1,1386.5 L1375.5,1385.0 L1377.9,1384.6 L1380.1,1382.6 L1382.2,1385.8 L1384.5,1383.9 L1386.6,1382.0 L1389.0,1378.8 L1391.4,1378.3 L1393.6,1377.0 L1395.6,1375.4 L1398.0,1375.9 L1400.1,1370.7 L1402.5,1373.9 L1404.7,1367.7 L1407.0,1366.7 L1409.4,1364.5 L1411.5,1362.1 L1413.9,1360.1 L1416.2,1358.2 L1418.3,1358.5 L1420.5,1359.0 L1422.9,1358.0 L1425.3,1357.2 L1427.3,1355.3 L1428.9,1351.8 L1431.0,1355.3 L1433.2,1351.8 L1435.3,1352.9 L1437.7,1353.4 L1440.0,1352.1 L1442.4,1350.6 L1444.5,1352.5 L1446.8,1349.3 L1449.1,1347.7 L1451.4,1345.8 L1453.5,1347.1 L1455.9,1344.5 L1457.9,1342.3 L1460.2,1340.7 L1462.2,1342.6 L1464.6,1342.9 L1467.0,1341.0 L1469.2,1341.0 L1471.4,1340.3 L1473.5,1341.4 L1475.9,1342.2 L1477.9,1341.0 L1480.1,1339.8 L1482.5,1339.8 L1484.6,1341.8 L1486.6,1341.0 L1488.5,1338.2 L1490.9,1341.8 L1493.0,1342.6 L1495.4,1340.7 L1497.7,1342.3 L1500.0,1342.3 L1502.0,1343.7 L1504.4,1339.9 L1506.5,1340.6 L1508.8,1341.8 L1511.1,1342.6 L1513.1,1338.7 L1515.2,1341.4 L1517.4,1338.3 L1519.8,1336.3 L1521.8,1333.9 L1523.9,1329.2 L1526.1,1327.6 L1528.5,1326.5 L1530.9,1325.7 L1532.9,1321.5 L1534.5,1320.4 L1536.6,1322.0 L1538.8,1323.6 L1540.9,1324.4 L1542.4,1324.9 L1544.5,1327.6 L1546.7,1329.5 L1548.5,1332.3 L1550.7,1334.4 L1552.8,1339.1 L1554.8,1338.7 L1557.2,1344.2 L1559.6,1344.5 L1561.5,1344.2 L1563.9,1349.8 L1565.9,1351.0 L1568.1,1349.8 L1570.2,1357.7 L1572.3,1356.4 L1574.5,1359.3 L1577.0,1362.0 L1579.2,1361.3 L1581.3,1361.3 L1583.7,1363.2 L1586.1,1366.7 L1588.4,1367.5 L1590.5,1367.7 L1592.4,1366.4 L1594.5,1370.7 L1596.7,1367.7 L1598.7,1369.9 L1600.8,1367.5 L1603.0,1368.8 L1605.4,1370.7 L1607.8,1373.5 L1610.2,1373.5 L1612.2,1373.1 L1614.3,1375.1 L1616.5,1376.4 L1618.6,1373.1 L1620.6,1375.6 L1622.8,1374.0 L1624.9,1373.1 L1627.0,1375.6 L1629.2,1376.4 L1631.2,1375.4 L1633.3,1374.8 L1635.5,1377.2 L1637.6,1376.2 L1640.0,1379.9 L1642.3,1377.0 L1644.4,1380.7 L1646.8,1379.4 L1649.0,1381.5 L1651.1,1382.7 L1653.4,1380.7 L1655.5,1383.1 L1657.7,1384.6 L1660.1,1383.5 L1662.2,1383.4 L1664.5,1381.0 L1666.6,1383.1 L1668.8,1383.4 L1670.9,1381.5 L1672.9,1383.9 L1675.2,1382.7 L1677.2,1383.9 L1679.6,1385.4 L1681.7,1385.4 L1683.9,1380.7 L1685.9,1384.2 L1688.3,1385.4 L1690.4,1386.2 L1692.6,1383.4 L1694.7,1387.0 L1696.7,1384.6 L1698.9,1384.6 L1701.3,1386.5 L1703.7,1384.6 L1705.8,1382.7 L1708.1,1383.1 L1710.2,1384.3 L1712.6,1385.4 L1715.0,1385.9 L1716.9,1385.4 L1718.8,1383.5 L1720.8,1389.1 L1722.9,1387.8 L1725.1,1383.1 L1727.2,1384.3 L1729.2,1383.9 L1731.4,1384.6 L1733.5,1385.1 L1735.9,1386.5 L1737.9,1384.3 L1739.8,1385.1 L1741.9,1383.1 L1743.8,1383.1 L1745.9,1381.5 L1747.0,1380.2" fill="none" stroke="#2e2e2e" stroke-width="1.6" stroke-linejoin="round" stroke-linecap="round"/>
</svg>
</body></html>
